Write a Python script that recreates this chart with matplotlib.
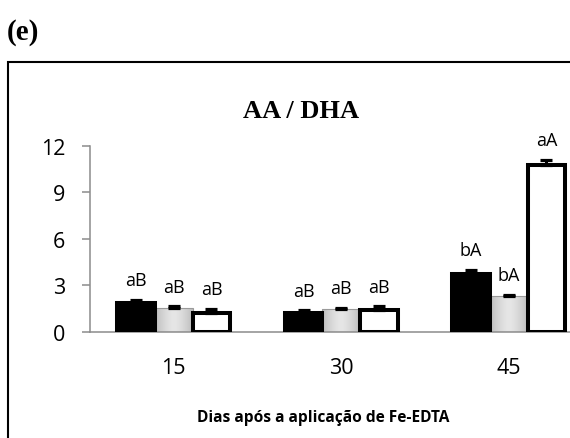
import matplotlib.pyplot as plt
from matplotlib.patches import Rectangle
from matplotlib.colors import LinearSegmentedColormap
import numpy as np

# data
days = ['15', '30', '45']
serie_1 = [1.83, 1.19, 3.74]
serie_2 = [1.53, 1.46, 2.31]
serie_3 = [1.23, 1.38, 10.74]
err_1 = [0.23, 0.18, 0.25]
err_2 = [0.10, 0.09, 0.09]
err_3 = [0.25, 0.25, 0.35]
lab_1 = ['aB', 'aB', 'bA']
lab_2 = ['aB', 'aB', 'bA']
lab_3 = ['aB', 'aB', 'aA']
yticks = [0, 3, 6, 9, 12]

W, H = 570, 439
fig = plt.figure(figsize=(W / 100, H / 100), dpi=100)
ax = fig.add_axes([90 / W, (H - 332.7) / H, 502.5 / W, 186 / H])

x = np.arange(len(days))
bw = 0.225
gray = '#8c8c8c'

# black series
ax.bar(x - bw, serie_1, bw, color='black', edgecolor='black', linewidth=2.9, zorder=3)
# white series
ax.bar(x + bw, serie_3, bw, color='white', edgecolor='black', linewidth=2.9, zorder=3)
# gray series with a soft horizontal gradient
bars2 = ax.bar(x, serie_2, bw, color='#d6d6d6', zorder=2)
cmap = LinearSegmentedColormap.from_list('g', ['#e6e6e6', '#bcbcbc'])
grad = np.abs(np.linspace(-1, 1, 64))[None, :] ** 1.5
for b in bars2:
    im = ax.imshow(grad, cmap=cmap, vmin=0, vmax=1, aspect='auto', zorder=2.5,
                   extent=[b.get_x(), b.get_x() + b.get_width(), 0, b.get_height()])
    im.set_clip_path(b)
ax.bar(x, serie_2, bw, fill=False, edgecolor='#9a9a9a', linewidth=0.8, zorder=2.6)

for xs, vals, errs, labs in [(x - bw, serie_1, err_1, lab_1),
                             (x, serie_2, err_2, lab_2),
                             (x + bw, serie_3, err_3, lab_3)]:
    ax.errorbar(xs, vals, yerr=[np.zeros(3), errs], fmt='none', ecolor='black',
                elinewidth=2.2, capsize=4.3, capthick=2.3, zorder=4)
    for xi, v, e, t in zip(xs, vals, errs, labs):
        ax.annotate(t, (xi, v + e), xytext=(0, 10.5), textcoords='offset points',
                    ha='center', va='baseline', fontsize=13, family='Open Sans',
                    annotation_clip=False)

ax.set_xlim(-0.5, 2.5)
ax.set_ylim(0, 12)
ax.set_yticks(yticks)
ax.set_xticks(x)
ax.set_xticklabels(days, family='Open Sans', fontsize=15.5)
ax.set_yticklabels([str(t) for t in yticks], family='Open Sans', fontsize=15.5)
ax.tick_params(axis='x', length=0, pad=18)
ax.tick_params(axis='y', length=5.8, width=1.1, color=gray, pad=12)
for s in ['top', 'right']:
    ax.spines[s].set_visible(False)
for s in ['left', 'bottom']:
    ax.spines[s].set_color(gray)
    ax.spines[s].set_linewidth(1.1)
ax.set_facecolor('none')

# outer frame (cut off at right and bottom)
fig.patches.append(Rectangle((8.3 / W, -0.1), 1.2, (H - 62.7) / H + 0.1,
                             transform=fig.transFigure, fill=False,
                             edgecolor='black', linewidth=1.5))

fig.text(7 / W, 1 - 32 / H, '(e)', family='Liberation Serif', weight='bold',
         fontsize=21, ha='left', va='center')
fig.text(301 / W, 1 - 118 / H, 'AA / DHA', family='Liberation Serif', weight='bold',
         fontsize=19, ha='center', va='baseline')
fig.text(323 / W, 1 - 422.3 / H, 'Dias após a aplicação de Fe-EDTA', family='Open Sans',
         weight='bold', fontsize=11.2, ha='center', va='baseline')

fig.savefig('out.png', dpi=100)
